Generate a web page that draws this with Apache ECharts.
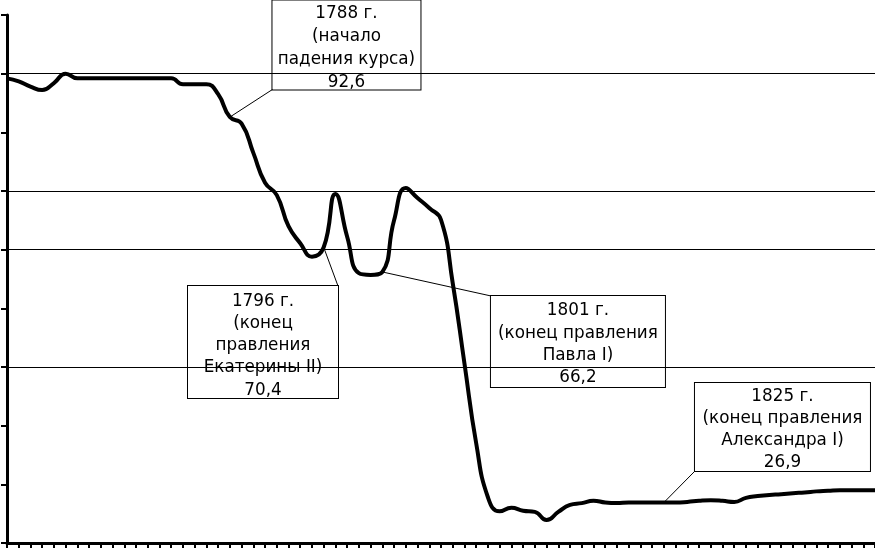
<!DOCTYPE html>
<html>
<head>
<meta charset="utf-8">
<script src="https://cdn.jsdelivr.net/npm/echarts@6/dist/echarts.min.js"></script>
<style>
  html, body { margin: 0; padding: 0; background: #fff; }
  #chart { width: 875px; height: 549px; }
</style>
</head>
<body>
<div id="chart"></div>
<script>
// годы (ось X)
const years = [
  1769, 1770, 1771, 1772, 1773, 1774, 1775, 1776, 1777, 1778,
  1779, 1780, 1781, 1782, 1783, 1784, 1785, 1786, 1787, 1788,
  1789, 1790, 1791, 1792, 1793, 1794, 1795, 1796, 1797, 1798,
  1799, 1800, 1801, 1802, 1803, 1804, 1805, 1806, 1807, 1808,
  1809, 1810, 1811, 1812, 1813, 1814, 1815, 1816, 1817, 1818,
  1819, 1820, 1821, 1822, 1823, 1824, 1825, 1826, 1827, 1828,
  1829, 1830, 1831, 1832, 1833, 1834, 1835, 1836, 1837, 1838,
  1839, 1840, 1841, 1842, 1843
]
// курс ассигнационного рубля (коп. серебром)
const rate = [
  99.2, 98.7, 97.8, 97.2, 98.4, 100.0, 99.2, 99.2, 99.2, 99.2,
  99.2, 99.2, 99.2, 99.2, 99.2, 98.2, 98.2, 98.2, 96.5, 92.6,
  91.5, 86.5, 81.4, 79.3, 74.0, 71.1, 68.8, 70.4, 79.5, 72.2,
  66.0, 65.7, 66.2, 75.0, 80.5, 78.8, 77.1, 75.1, 64.3, 50.6,
  37.0, 27.8, 25.4, 26.0, 25.5, 25.3, 23.9, 25.3, 26.5, 26.8,
  27.2, 26.9, 26.8, 26.9, 26.9, 26.9, 26.9, 26.9, 27.0, 27.2,
  27.3, 27.2, 27.0, 27.7, 28.0, 28.2, 28.3, 28.5, 28.6, 28.8,
  28.9, 29.0, 29.0, 29.0, 29.0
]
// горизонтальные линии
const gridValues = [100, 80, 70, 50]

// подписи-выноски
const noteYears = [1788, 1796, 1801, 1825]
const noteTexts = [
  '1788 г.\n(начало\nпадения курса)',
  '1796 г.\n(конец\nправления\nЕкатерины II)',
  '1801 г.\n(конец правления\nПавла I)',
  '1825 г.\n(конец правления\nАлександра I)'
]
// смещение центра рамки от точки, размер рамки, отступ текста, угол рамки для выноски
const noteBoxes = [
  { offset: [116.6, -72.1], width: 148, height: 89, padTop: 2, lineHeight: 23, corner: [-1, 1] },
  { offset: [-60.7, 94.7], width: 150, height: 112, padTop: 4, lineHeight: 22.3, corner: [1, -1] },
  { offset: [195.6, 69.5], width: 174, height: 91, padTop: 4, lineHeight: 22.3, corner: [-1, -1] },
  { offset: [118.6, -75.5], width: 175, height: 88, padTop: 2, lineHeight: 22.3, corner: [-1, 1] }
]

const seriesData = rate.map((v, i) => {
  const n = noteYears.indexOf(years[i])
  if (n < 0) return v
  const box = noteBoxes[n]
  return {
    value: v,
    label: {
      show: true,
      position: 'inside',
      offset: [box.offset[0], box.offset[1] - box.height / 2],
      width: box.width,
      height: box.height - box.padTop,
      align: 'center',
      verticalAlign: 'top',
      formatter: noteTexts[n] + '\n' + String(v).replace('.', ','),
      fontFamily: 'DejaVu Sans',
      fontSize: 16.8,
      lineHeight: box.lineHeight,
      color: '#000',
      backgroundColor: '#fff',
      borderColor: '#000',
      borderWidth: 1,
      padding: [box.padTop, 0, 0, 0]
    }
  }
})

const chart = echarts.init(document.getElementById('chart'))
const option = {
  animation: false,
  grid: { left: 7, right: 0, top: 15, bottom: 6, outerBoundsMode: 'none' },
  xAxis: {
    type: 'category',
    data: years,
    boundaryGap: false,
    axisLine: { show: true, onZero: false, lineStyle: { color: '#000', width: 3 } },
    axisTick: { show: true, interval: 0, length: 5, lineStyle: { color: '#000', width: 2 } },
    axisLabel: { show: false },
    splitLine: { show: false }
  },
  yAxis: {
    type: 'value',
    min: 20,
    max: 110,
    interval: 10,
    axisLine: { show: true, onZero: false, lineStyle: { color: '#000', width: 3 } },
    axisTick: { show: true, length: 6, lineStyle: { color: '#000', width: 2 } },
    axisLabel: { show: false },
    splitLine: { show: false }
  },
  series: [{
    type: 'line',
    data: seriesData,
    smooth: 0.5,
    showSymbol: true,
    symbol: 'circle',
    symbolSize: 1,
    itemStyle: { color: '#000' },
    lineStyle: { color: '#000', width: 4 },
    label: { show: false },
    emphasis: { disabled: true },
    silent: true,
    markLine: {
      silent: true,
      symbol: 'none',
      label: { show: false },
      lineStyle: { color: '#000', width: 1, type: 'solid' },
      data: gridValues.map(v => ({ yAxis: v }))
    }
  }]
}
chart.setOption(option)

// выноски: от точки ряда к углу рамки
const leaders = noteYears.map((y, n) => {
  const idx = years.indexOf(y)
  const box = noteBoxes[n]
  const p = chart.convertToPixel({ seriesIndex: 0 }, [idx, rate[idx]])
  return [
    { coord: [idx, rate[idx]] },
    {
      x: p[0] + box.offset[0] + box.corner[0] * box.width / 2,
      y: p[1] + box.offset[1] + box.corner[1] * box.height / 2
    }
  ]
})
option.series[0].markLine.data = gridValues.map(v => ({ yAxis: v })).concat(leaders)
chart.setOption(option)
</script>
</body>
</html>
